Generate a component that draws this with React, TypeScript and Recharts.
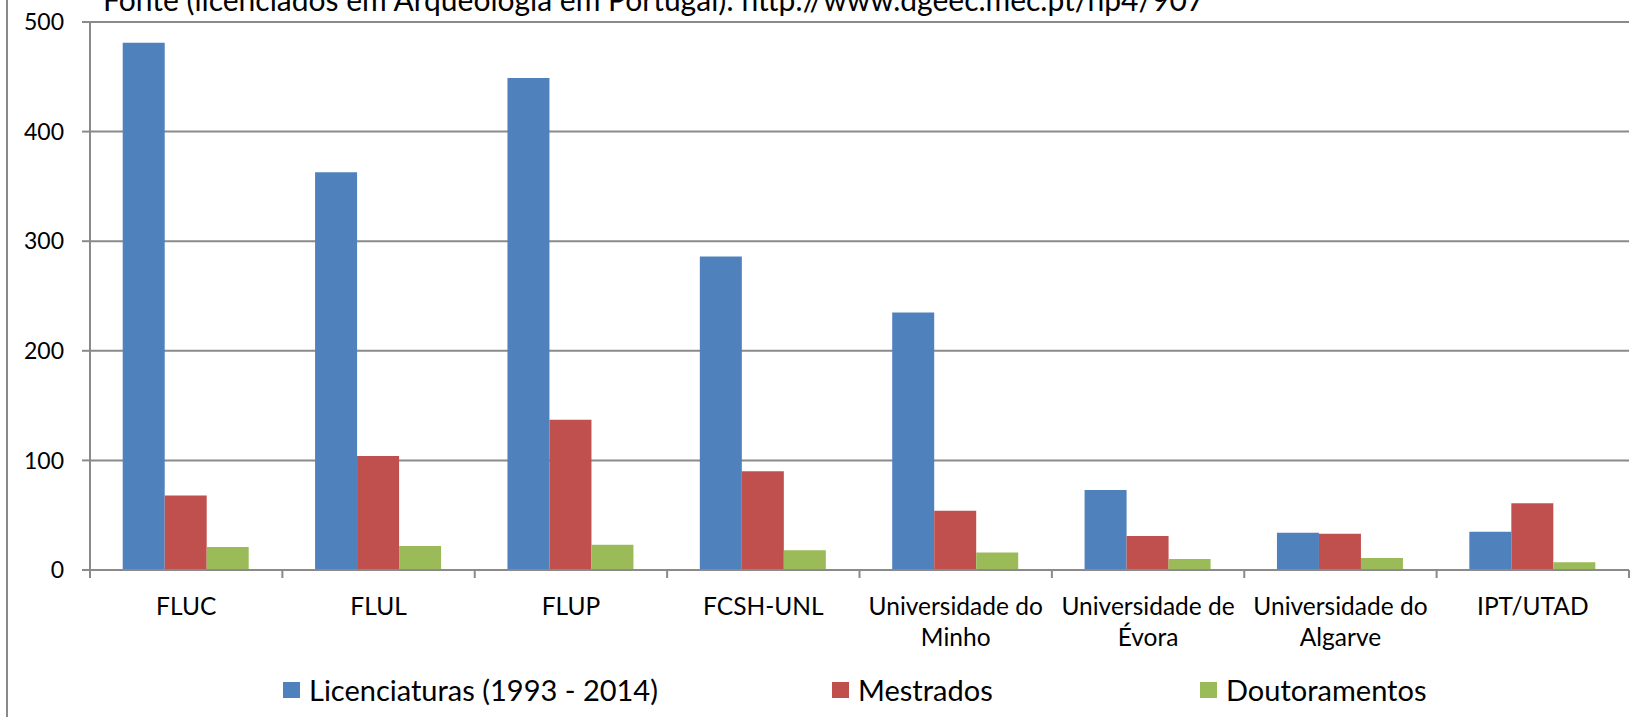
import { BarChart, Bar, XAxis, YAxis, CartesianGrid, Legend } from 'recharts';

const categories = [
  'FLUC',
  'FLUL',
  'FLUP',
  'FCSH-UNL',
  'Universidade do Minho',
  'Universidade de Évora',
  'Universidade do Algarve',
  'IPT/UTAD',
];
const licenciaturas = [481, 363, 449, 286, 235, 73, 34, 35];
const mestrados = [68, 104, 137, 90, 54, 31, 33, 61];
const doutoramentos = [21, 22, 23, 18, 16, 10, 11, 7];
const yTicks = [0, 100, 200, 300, 400, 500];

const seriesNames = ['Licenciaturas (1993 - 2014)', 'Mestrados', 'Doutoramentos'];
const seriesColors = ['#4F81BD', '#C0504D', '#9BBB59'];
const TITLE = 'Fonte (licenciados em Arqueologia em Portugal): http://www.dgeec.mec.pt/np4/907';

const W = 1645;
const H = 717;
const PLOT_LEFT = 90;
const PLOT_RIGHT = 1629;
const BAND = (PLOT_RIGHT - PLOT_LEFT) / categories.length;
const GRID = '#8a8a8a';
const FONT = 'Lato, "Open Sans", sans-serif';

const data = categories.map((name, i) => ({
  name,
  lic: licenciaturas[i],
  mes: mestrados[i],
  dou: doutoramentos[i],
}));

// eslint-disable-next-line @typescript-eslint/no-explicit-any
const XTick = (props: any) => {
  const { x, y, payload, index } = props;
  const words = String(payload.value).split(' ');
  const lines = words.length > 2 ? [words.slice(0, 2).join(' '), words.slice(2).join(' ')] : [words.join(' ')];
  const left = x - BAND / 2;
  return (
    <g>
      <line x1={left} y1={y} x2={left} y2={y + 8} stroke={GRID} strokeWidth={2} />
      {index === categories.length - 1 && (
        <line x1={x + BAND / 2} y1={y} x2={x + BAND / 2} y2={y + 8} stroke={GRID} strokeWidth={2} />
      )}
      {lines.map((l, i) => (
        <text key={i} x={x} y={y + 45 + i * 31} textAnchor="middle" fontSize={24.5} fontFamily={FONT} fill="#000">
          {l}
        </text>
      ))}
    </g>
  );
};

const legendPos = [283, 832, 1200];

const LegendContent = () => (
  <div style={{ position: 'relative', height: 40, fontFamily: FONT, fontSize: 29, color: '#000' }}>
    {seriesNames.map((n, i) => (
      <div key={n} style={{ position: 'absolute', left: legendPos[i], top: 0, display: 'flex', alignItems: 'center', height: 26 }}>
        <span style={{ display: 'inline-block', width: 17, height: 16, background: seriesColors[i], marginRight: 9 }} />
        <span style={{ lineHeight: '26px', whiteSpace: 'nowrap' }}>{n}</span>
      </div>
    ))}
  </div>
);

export default function App() {
  return (
    <div style={{ position: 'absolute', left: 0, top: 0, width: W, height: H, overflow: 'hidden', background: '#fff' }}>
      <BarChart
        width={W}
        height={H}
        data={data}
        margin={{ top: 22, right: W - PLOT_RIGHT, bottom: 0, left: 10 }}
        barCategoryGap="17%"
        barGap={0}
      >
        <CartesianGrid vertical={false} stroke={GRID} strokeWidth={2} />
        <XAxis
          dataKey="name"
          height={107}
          interval={0}
          tickSize={0}
          tickMargin={0}
          tickLine={false}
          axisLine={{ stroke: GRID, strokeWidth: 2 }}
          tick={XTick}
        />
        <YAxis
          width={80}
          domain={[0, 500]}
          ticks={yTicks}
          interval={0}
          tickSize={8}
          tickMargin={18}
          tickLine={{ stroke: GRID, strokeWidth: 2 }}
          axisLine={{ stroke: GRID, strokeWidth: 2 }}
          tick={{ fontSize: 23, fontFamily: FONT, fill: '#000' }}
        />
        <Legend verticalAlign="bottom" content={LegendContent} wrapperStyle={{ left: 0, width: W, bottom: 0 }} />
        <Bar dataKey="lic" name={seriesNames[0]} fill={seriesColors[0]} isAnimationActive={false} />
        <Bar dataKey="mes" name={seriesNames[1]} fill={seriesColors[1]} isAnimationActive={false} />
        <Bar dataKey="dou" name={seriesNames[2]} fill={seriesColors[2]} isAnimationActive={false} />
      </BarChart>
      {/* frame edge and cut-off source note, drawn over the chart */}
      <svg width={W} height={H} style={{ position: 'absolute', left: 0, top: 0, pointerEvents: 'none' }}>
        <line x1={7} y1={0} x2={7} y2={H} stroke={GRID} strokeWidth={2} />
        <text x={103} y={11} fontSize={30} fontFamily={FONT} fill="#000">
          {TITLE}
        </text>
      </svg>
    </div>
  );
}
